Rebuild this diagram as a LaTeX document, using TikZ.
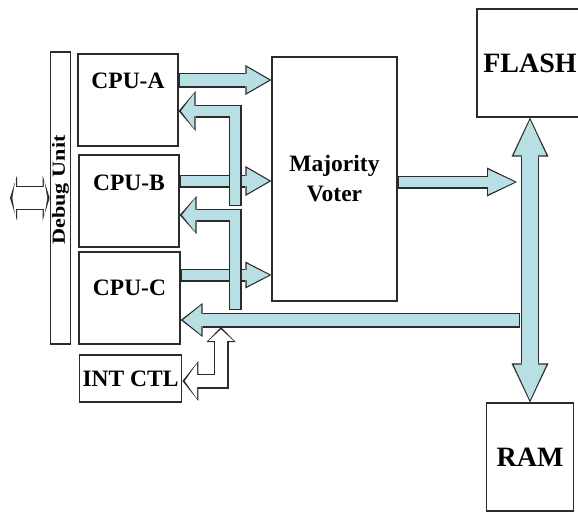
\documentclass[tikz,border=0pt]{standalone}
\usepackage{fontspec}
\setmainfont{Liberation Serif}
\usetikzlibrary{arrows.meta,positioning,calc}
\definecolor{busfill}{HTML}{B8E0E4}
\definecolor{edgecol}{HTML}{2B2B2B}
\tikzset{
  blk/.style={draw=edgecol,line width=1.2pt,fill=white},
  bus/.style n args={4}{line join=miter,draw=#1,line width=#2-2.4pt,
    -{Triangle[width=#3-4.2pt,length=#4-3.6pt,line width=0pt]},
    shorten >=2.4pt,shorten <=1.2pt,
    preaction={draw=edgecol,line width=#2,shorten >=0pt,shorten <=0pt,
      -{Triangle[width=#3,length=#4,line width=0pt]}}},
  dbus/.style n args={6}{line join=miter,draw=#1,line width=#2-2.4pt,
    {Triangle[width=#3-4.2pt,length=#4-3.6pt,line width=0pt]}-{Triangle[width=#5-4.2pt,length=#6-3.6pt,line width=0pt]},
    shorten >=2.4pt,shorten <=2.4pt,
    preaction={draw=edgecol,line width=#2,shorten >=0pt,shorten <=0pt,
      {Triangle[width=#3,length=#4,line width=0pt]}-{Triangle[width=#5,length=#6,line width=0pt]}}},
}
\begin{document}
\begin{tikzpicture}[x=1pt,y=-1pt,every node/.style={font=\bfseries\fontsize{23.5}{30}\selectfont}]
\useasboundingbox (0,0) rectangle (578,512);
\clip (0,0) rectangle (578,512);
\node[blk,minimum width=20.5pt,minimum height=292pt] (debug) at (60.5,198) {};
\node[rotate=90,font=\bfseries\fontsize{18.5}{20}\selectfont] (debugtxt) at (60.5,190) {\scalebox{1.2}[1]{Debug Unit}};
\node[blk,minimum width=100pt,minimum height=92pt,label={[yshift=19pt]center:CPU-A}] (cpua) at (128,100) {};
\node[blk,minimum width=100pt,minimum height=92pt,label={[yshift=18pt]center:CPU-B}] (cpub) at (129,201) {};
\node[blk,minimum width=101pt,minimum height=92pt,label={[yshift=10pt]center:CPU-C}] (cpuc) at (129.5,298) {};
\node[blk,minimum width=99pt,minimum height=47pt] (intctl) at (130.5,378.5) {INT CTL};
\node[blk,minimum width=125pt,minimum height=244pt,align=center] (voter) at (334.5,179) {Majority\\Voter};
\node[blk,minimum width=106pt,minimum height=108pt,font=\bfseries\fontsize{28}{32}\selectfont] (flash) at (530,63) {FLASH};
\node[blk,minimum width=87pt,minimum height=108pt,font=\bfseries\fontsize{28}{32}\selectfont] (ram) at (530,457) {RAM};
\coordinate (ext) at (10,198);
\coordinate (vtap) at (517,182);
\coordinate (tapc) at (520,320);
\coordinate (ret1) at (235,206);
\coordinate (ret2) at (235,310);
\coordinate (intap) at (221,327);
\draw[dbus={white}{24pt}{45pt}{7pt}{45pt}{7pt}] (ext) -- (debug.west |- ext);
\draw[bus={busfill}{15pt}{30pt}{26pt}] (cpua.east |- 0,80) -- (voter.west |- 0,80);
\draw[bus={busfill}{13pt}{30pt}{26pt}] (cpub.east |- 0,181) -- (voter.west |- 0,181);
\draw[bus={busfill}{13pt}{27pt}{26pt}] (cpuc.east |- 0,275) -- (voter.west |- 0,275);
\draw[bus={busfill}{13pt}{40pt}{17pt}] (ret1) -- (ret1 |- 0,111) -- (cpua.east |- 0,111);
\draw[bus={busfill}{13pt}{38pt}{17pt}] (ret2) -- (ret2 |- 0,215) -- (cpub.east |- 0,215);
\draw[dbus={busfill}{18pt}{37pt}{39pt}{37pt}{39pt}] (flash.south) -- (ram.north);
\draw[bus={busfill}{13pt}{29pt}{30pt}] (voter.east |- vtap) -- (vtap);
\draw[bus={busfill}{15pt}{34pt}{22pt}] (tapc) -- (cpuc.east |- tapc);
\draw[dbus={white}{15pt}{29pt}{15pt}{40pt}{16pt}] (intap) -- (intap |- 0,381) -- (intctl.east |- 0,381);
\end{tikzpicture}
\end{document}
